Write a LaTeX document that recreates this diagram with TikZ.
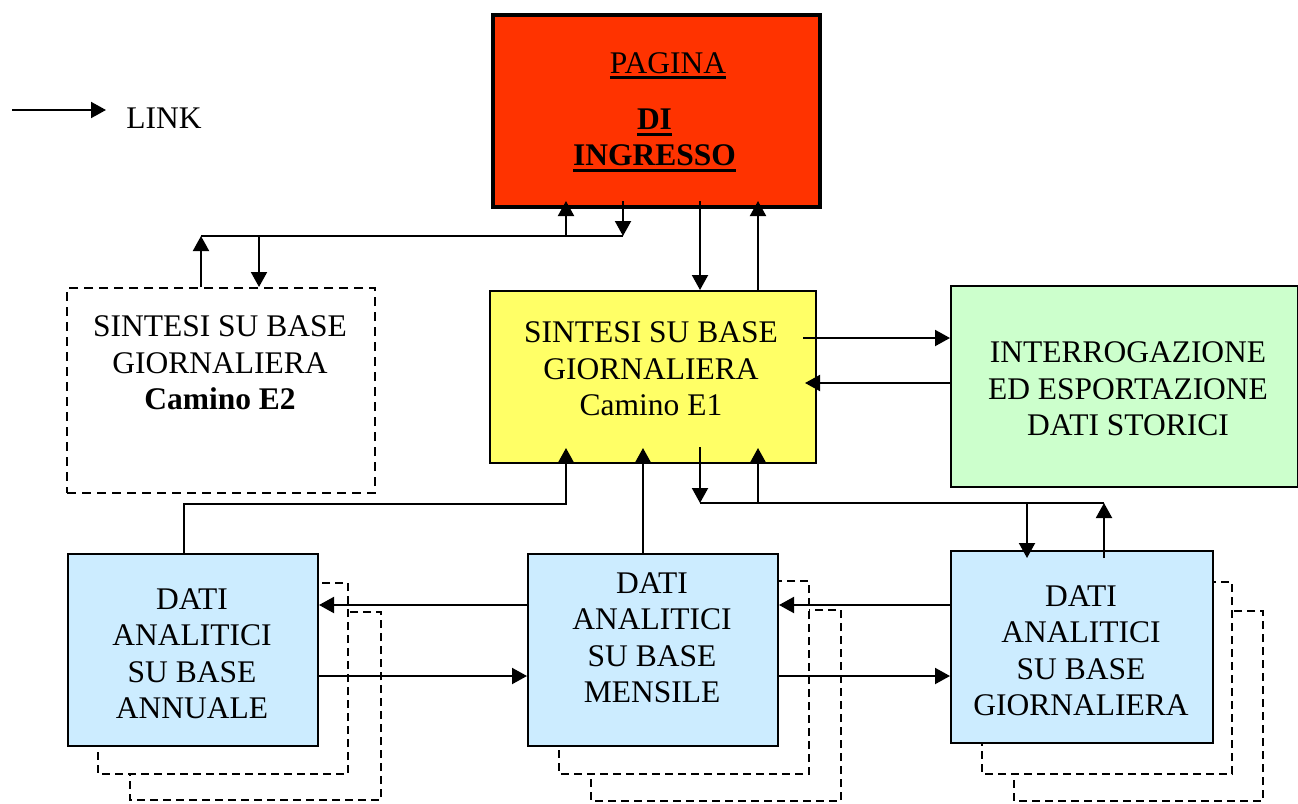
\documentclass[tikz,border=0pt]{standalone}
\usepackage{fontspec}
\setmainfont{Liberation Serif}
\usetikzlibrary{arrows.meta}
\definecolor{redfill}{HTML}{FF3300}
\definecolor{yellowfill}{HTML}{FFFF66}
\definecolor{greenfill}{HTML}{CCFFCC}
\definecolor{bluefill}{HTML}{CCECFF}
\newcommand\myul[1]{\leavevmode\setbox0\hbox{#1}\rlap{\vrule width\wd0 height -2.5pt depth 5pt}\box0}
\newcommand\myulb[1]{\leavevmode\setbox0\hbox{#1}\rlap{\vrule width\wd0 height -3.5pt depth 6.5pt}\box0}
\begin{document}
\begin{tikzpicture}[x=1pt,y=-1pt,line width=2pt,
  arr/.style={-{Triangle[length=15pt,width=16pt]}},
  boxbase/.style={draw=black,line width=2pt,inner sep=0pt,anchor=north west,rectangle},
  txt/.style={align=center,font=\fontsize{31.5}{36.5}\selectfont,inner sep=0pt,anchor=base},
  shadowbox/.style={draw=black,dash pattern=on 8pt off 5pt,fill=white,line width=2pt},
  dashbox/.style={boxbase,dash pattern=on 9pt off 6pt,fill=white}]
\useasboundingbox (0,0) rectangle (1298,803);

% legend
\coordinate (legA) at (12,110);
\coordinate (legB) at (106,110);
\draw[arr] (legA) -- (legB);
\node[txt] (legtxt) at (164,128) {LINK};

% main boxes
\node[boxbase,fill=redfill,line width=4pt,minimum width=327pt,minimum height=192pt] (red) at (491,13) {};
\node[boxbase,fill=yellowfill,minimum width=326pt,minimum height=172pt] (yellow) at (489,290) {};
\node[dashbox,minimum width=308pt,minimum height=205pt] (e2) at (66,287) {};
\node[boxbase,fill=greenfill,minimum width=347pt,minimum height=201pt] (green) at (950,285) {};

% shadows
\draw[shadowbox] (130,612) rectangle (381,800);
\draw[shadowbox] (98,583) rectangle (348,774);
\draw[shadowbox] (591,610) rectangle (841,801);
\draw[shadowbox] (559,581) rectangle (809,774);
\draw[shadowbox] (1014,611) rectangle (1263,801);
\draw[shadowbox] (982,582) rectangle (1232,774);

\node[boxbase,fill=bluefill,minimum width=250pt,minimum height=192pt] (annual) at (67,553) {};
\node[boxbase,fill=bluefill,minimum width=250pt,minimum height=192pt] (mensile) at (527,553) {};
\node[boxbase,fill=bluefill,minimum width=262pt,minimum height=192pt] (giorn) at (950,550) {};

% texts (anchor = baseline of the last line)
\node[txt] (redt1) at (668,73.5) {\myul{PAGINA}};
\node[txt] (redt2) at (654.5,165.7) {\bfseries\myulb{DI}\\\bfseries\myulb{INGRESSO}};
\node[txt] (yelt) at (651,415.5) {SINTESI SU BASE\\GIORNALIERA\\Camino E1};
\node[txt] (e2t) at (220,409.5) {SINTESI SU BASE\\GIORNALIERA\\\textbf{Camino E2}};
\node[txt] (grt) at (1128,435.5) {INTERROGAZIONE\\ED ESPORTAZIONE\\DATI STORICI};
\node[txt] (ant) at (192,718.5) {DATI\\ANALITICI\\SU BASE\\ANNUALE};
\node[txt] (met) at (652,702.5) {DATI\\ANALITICI\\SU BASE\\MENSILE};
\node[txt] (git) at (1081,715.5) {DATI\\ANALITICI\\SU BASE\\GIORNALIERA};

% x positions of connectors
\coordinate (xA) at (201,0);
\coordinate (xB) at (259,0);
\coordinate (xC) at (566,0);
\coordinate (xD) at (623,0);
\coordinate (xE) at (700,0);
\coordinate (xF) at (758,0);
\coordinate (xG) at (184,0);
\coordinate (xH) at (643,0);
\coordinate (xI) at (1027,0);
\coordinate (xJ) at (1104,0);
% bend rows
\coordinate (topbus) at (0,236);
\coordinate (botbus) at (0,503);
\coordinate (annbus) at (0,504);
\coordinate (redtip) at (0,201);
\coordinate (yeltip) at (0,448);
\coordinate (yelin) at (0,447);

% red <-> E2
\draw[arr] (xA |- e2.north) -- (xA |- topbus);
\draw (xA |- topbus) -- (xD |- topbus);
\draw[arr] (xC |- topbus) -- (xC |- redtip);
\draw[arr] (xD |- redtip) -- (xD |- topbus);
\draw[arr] (xB |- topbus) -- (xB |- e2.north);

% red <-> yellow
\draw[arr] (xE |- redtip) -- (xE |- yellow.north);
\draw[arr] (xF |- yellow.north) -- (xF |- redtip);

% yellow <-> green
\coordinate (yg1) at (803,338);
\coordinate (yg2) at (805,383);
\draw[arr] (yg1) -- (yg1 -| green.west);
\draw[arr] (yg2 -| green.west) -- (yg2);

% annual -> yellow
\draw[arr] (xG |- annual.north) |- (xC |- annbus) -- (xC |- yeltip);
% mensile -> yellow
\draw[arr] (xH |- mensile.north) -- (xH |- yeltip);
% yellow <-> giornaliera
\draw[arr] (xE |- yelin) -- (xE |- botbus);
\draw (xE |- botbus) -- (xJ |- botbus);
\coordinate (gtip) at (0,558);
\draw[arr] (xI |- botbus) -- (xI |- gtip);
\draw[arr] (xJ |- gtip) -- (xJ |- botbus);
\draw[arr] (xF |- botbus) -- (xF |- yeltip);

% bottom row
\coordinate (r1) at (0,605);
\coordinate (r2) at (0,676);
\draw[arr] (mensile.west |- r1) -- (annual.east |- r1);
\draw[arr] (annual.east |- r2) -- (mensile.west |- r2);
\draw[arr] (giorn.west |- r1) -- (mensile.east |- r1);
\draw[arr] (mensile.east |- r2) -- (giorn.west |- r2);
\end{tikzpicture}
\end{document}
